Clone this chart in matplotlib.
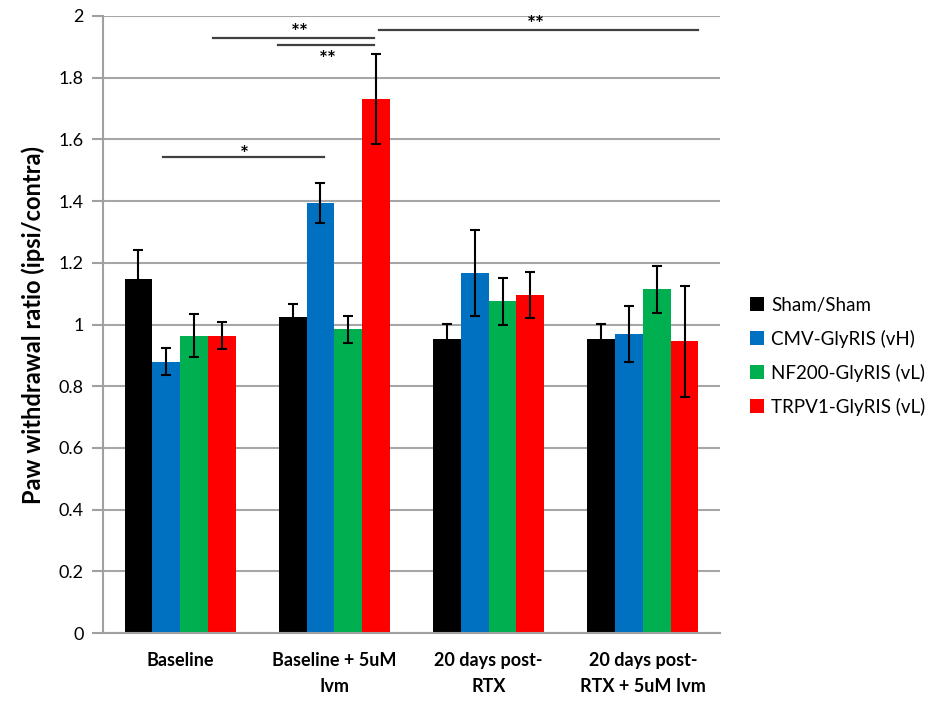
import numpy as np
import matplotlib
matplotlib.use('Agg')
import matplotlib.pyplot as plt
from matplotlib.patches import Patch

plt.rcParams['font.family'] = ['Liberation Sans Narrow', 'Lato', 'DejaVu Sans']

categories = ['Baseline', 'Baseline + 5uM\nIvm', '20 days post-\nRTX', '20 days post-\nRTX + 5uM Ivm']
series = ['Sham/Sham', 'CMV-GlyRIS (vH)', 'NF200-GlyRIS (vL)', 'TRPV1-GlyRIS (vL)']
colors = ['#000000', '#0070C0', '#00B050', '#FF0000']

sham = [1.146, 1.023, 0.952, 0.952]
cmv = [0.879, 1.395, 1.166, 0.970]
nf200 = [0.964, 0.984, 1.075, 1.114]
trpv1 = [0.964, 1.731, 1.095, 0.945]

sham_err = [0.095, 0.043, 0.050, 0.050]
cmv_err = [0.044, 0.065, 0.139, 0.090]
nf200_err = [0.070, 0.043, 0.076, 0.077]
trpv1_err = [0.044, 0.147, 0.075, 0.180]

values = [sham, cmv, nf200, trpv1]
errors = [sham_err, cmv_err, nf200_err, trpv1_err]

# significance brackets: (x start, x end, y line, star label, star x, star y)
sig_x0 = [-0.112, 0.212, 0.637, 1.288]
sig_x1 = [0.931, 1.259, 1.259, 3.357]
sig_y = [1.543, 1.929, 1.906, 1.955]
sig_label = ['*', '**', '**', '**']
sig_tx = [0.417, 0.778, 0.957, 2.307]
sig_ty = [1.550, 1.945, 1.857, 1.970]

fig = plt.figure(figsize=(9.41, 7.05), dpi=100)
ax = fig.add_axes([103 / 941, 72 / 705, 617 / 941, 617 / 705])

x = np.arange(len(categories))
w = 0.18
for i, (vals, errs) in enumerate(zip(values, errors)):
    pos = x + (i - 1.5) * w
    ax.bar(pos, vals, width=w, color=colors[i], zorder=2)
    ax.errorbar(pos, vals, yerr=errs, fmt='none', ecolor='black', elinewidth=1.5,
                capsize=3.5, capthick=1.5, zorder=3)

for x0, x1, yl, lab, tx, ty in zip(sig_x0, sig_x1, sig_y, sig_label, sig_tx, sig_ty):
    ax.plot([x0, x1], [yl, yl], color='#404040', lw=1.6, zorder=3, clip_on=False)
    ax.text(tx, ty, lab, ha='center', va='center', fontsize=15, fontweight='bold', zorder=4)

ax.set_xlim(-0.5, 3.5)
ax.set_ylim(0, 2)
ax.set_yticks(np.arange(0, 2.01, 0.2))
ax.set_yticklabels(['0', '0.2', '0.4', '0.6', '0.8', '1', '1.2', '1.4', '1.6', '1.8', '2'], fontsize=13)
ax.set_xticks(x)
ax.set_xticklabels(categories, fontsize=13, fontweight='bold', linespacing=1.6)
ax.tick_params(axis='x', length=0, pad=14)
ax.tick_params(axis='y', length=8, color='#a0a0a0', width=1.5, pad=6)
ax.yaxis.grid(True, color='#a6a6a6', lw=1.5, zorder=0)
ax.set_axisbelow(True)
for s in ['top', 'right']:
    ax.spines[s].set_visible(False)
ax.spines['left'].set_color('#a0a0a0')
ax.spines['left'].set_linewidth(1.5)
ax.spines['bottom'].set_color('#a0a0a0')
ax.spines['bottom'].set_linewidth(1.5)

ax.set_ylabel('Paw withdrawal ratio (ipsi/contra)', fontsize=17, fontweight='bold', labelpad=10)

handles = [Patch(facecolor=c, edgecolor='none') for c in colors]
fig.legend(handles, series, loc='upper left', bbox_to_anchor=(733 / 941, 1 - 280 / 705),
           frameon=False, fontsize=13.5, handlelength=0.75, handleheight=0.75,
           handletextpad=0.4, labelspacing=0.85)

fig.savefig('out.png', dpi=100)
